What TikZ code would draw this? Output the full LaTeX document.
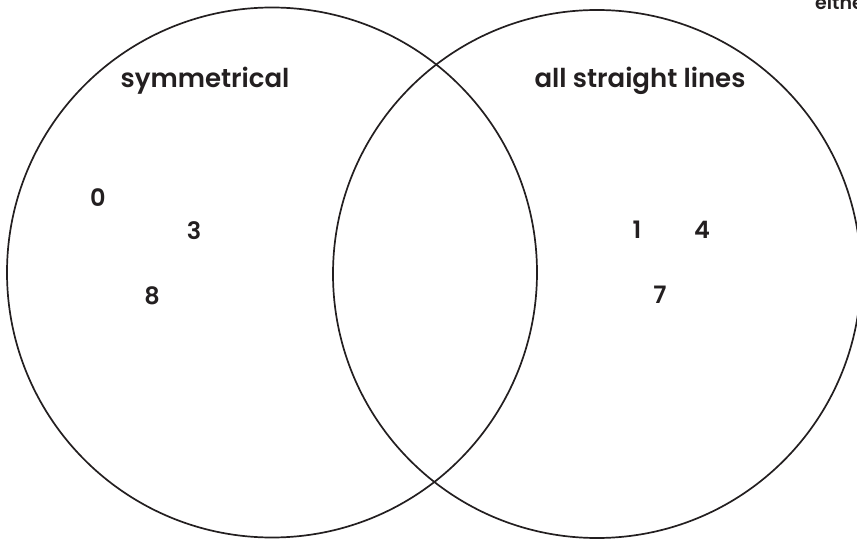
\documentclass[tikz,border=0pt]{standalone}
\usepackage{fontspec}
\setmainfont{Poppins}[UprightFont={* SemiBold},BoldFont={* Bold}]
\definecolor{ink}{HTML}{231F20}
\begin{document}
\begin{tikzpicture}[x=1pt,y=-1pt,
  ring/.style={draw=ink,line width=1.7pt},
  setlabel/.style={text=ink,font=\fontsize{26}{30}\selectfont,inner sep=0pt,anchor=base},
  num/.style={text=ink,font=\fontsize{24}{28}\selectfont,inner sep=0pt}]
\useasboundingbox (0,0) rectangle (857,545);
\clip (0,0) rectangle (857,545);
\draw[ring] (272,272.5) circle[radius=265];
\draw[ring] (597,274) circle[radius=264];
\node[setlabel] (sym) at (205,88) {symmetrical};
\node[setlabel] (str) at (640,88) {all straight lines};
\node[num] (n0) at (98,198) {0};
\node[num] (n3) at (194,231) {3};
\node[num] (n8) at (152,296) {8};
\node[num] (n1) at (637,230) {1};
\node[num] (n4) at (702,230) {4};
\node[num] (n7) at (660,295) {7};
\node[text=ink,font=\fontsize{19}{22}\selectfont,inner sep=0pt,anchor=base west] (eith) at (815,10) {either};
\end{tikzpicture}
\end{document}
